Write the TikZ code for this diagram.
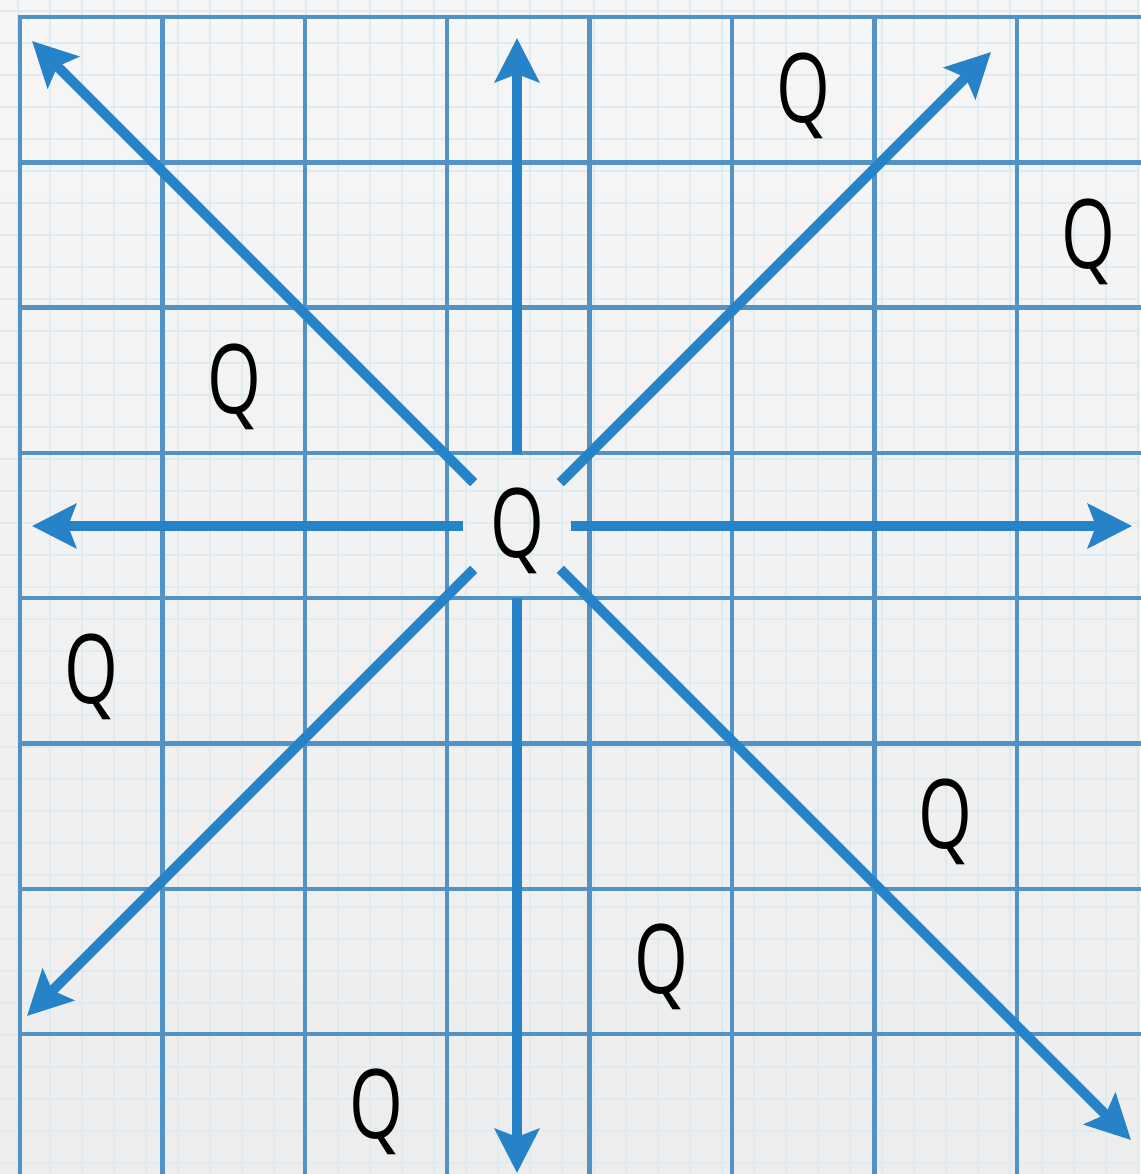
\documentclass[tikz,border=0pt]{standalone}
\usepackage{fontspec}
\setmainfont{Open Sans}
\usetikzlibrary{arrows.meta,shapes.geometric}
\definecolor{paperTop}{RGB}{246,246,246}
\definecolor{paperBot}{RGB}{237,237,237}
\definecolor{fine}{RGB}{222,236,242}
\definecolor{major}{RGB}{82,146,196}
\definecolor{rayblue}{RGB}{38,131,200}
\newcommand{\qletter}{\scalebox{0.72}[1]{Q}}

\begin{document}
\begin{tikzpicture}[x=1pt, y=-1pt,
  minorline/.style={fine, line width=2.5pt},
  majorline/.style={major, line width=4.5pt, line cap=rect},
  ray/.style={rayblue, line width=10pt, -{Stealth[length=44pt, width=44pt, inset=8pt]}},
  qlabel/.style={font=\fontsize{96}{96}\selectfont, text height=70pt, text depth=0pt,
                 inner sep=0pt, anchor=center},
  qcenter/.style={qlabel, ellipse, text depth=8pt, minimum width=108pt, minimum height=144pt},
]
% Paper
\fill[top color=paperTop, bottom color=paperBot] (0,0) rectangle (1140,1174);
\useasboundingbox (0,0) rectangle (1140,1174);

% Fine grid
\foreach \x in {18,50,...,1138}
  \draw[minorline] (\x,0) -- (\x,1174);
\foreach \y in {11,43,...,1171}
  \draw[minorline] (0,\y) -- (1140,\y);

% Major grid
\foreach \k in {0,...,7} {
  \draw[majorline] ({20+142.4*\k},17) -- ({20+142.4*\k},1180);
  \draw[majorline] (20,{17+145.3*\k}) -- (1150,{17+145.3*\k});
}

% Centre charge and rays
\node[qcenter] (qc) at (517,526) {\qletter};
\coordinate (tipN)  at (517,38);
\coordinate (tipS)  at (517,1173);
\coordinate (tipW)  at (32,526);
\coordinate (tipE)  at (1132,526);
\coordinate (tipNW) at (32,41);
\coordinate (tipNE) at (991,52);
\coordinate (tipSW) at (27,1016);
\coordinate (tipSE) at (1131,1140);
\foreach \t in {tipN,tipS,tipW,tipE,tipNW,tipNE,tipSW,tipSE}
  \draw[ray] (qc) -- (\t);

% Other charges
\node[qlabel] (q1) at (803,88)   {\qletter};
\node[qlabel] (q2) at (1088,233) {\qletter};
\node[qlabel] (q3) at (234,378)  {\qletter};
\node[qlabel] (q4) at (91,668)   {\qletter};
\node[qlabel] (q5) at (945,813)  {\qletter};
\node[qlabel] (q6) at (661,958)  {\qletter};
\node[qlabel] (q7) at (376,1103) {\qletter};
\end{tikzpicture}
\end{document}
